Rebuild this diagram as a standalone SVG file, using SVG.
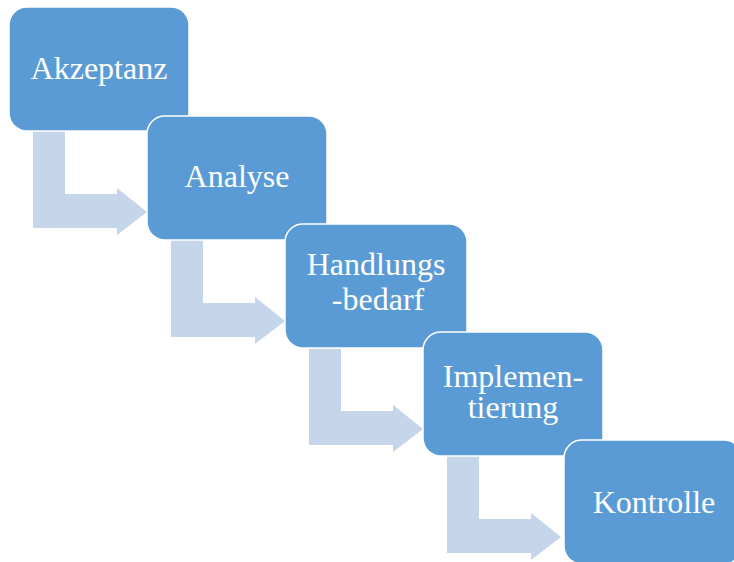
<svg xmlns="http://www.w3.org/2000/svg" width="734" height="562" viewBox="0 0 734 562">
<style>
.box{fill:#5B9BD5;stroke:#FFFFFF;stroke-width:1.5}
.arr{fill:#C5D5EA}
.lbl{font-family:"Liberation Serif","Times New Roman",serif;font-size:32px;fill:#FFFFFF;text-anchor:middle}
</style>
<defs>
<path id="bent" d="M24,120 H56 V187 H108 V181 L138,205 L108,228 V221 H24 Z"/>
</defs>
<rect width="734" height="562" fill="#FFFFFF"/>
<g id="connectors">
<use href="#bent" class="arr" x="9" y="7"/>
<use href="#bent" class="arr" x="147" y="116"/>
<use href="#bent" class="arr" x="285" y="224"/>
<use href="#bent" class="arr" x="423" y="332"/>
</g>
<g id="akzeptanz">
<rect class="box" x="9" y="7" width="180" height="124" rx="18"/>
<text class="lbl" x="99" y="79">Akzeptanz</text>
</g>
<g id="analyse">
<rect class="box" x="147" y="116" width="180" height="124" rx="18"/>
<text class="lbl" x="237" y="187">Analyse</text>
</g>
<g id="handlungsbedarf">
<rect class="box" x="285" y="224" width="182" height="124" rx="18"/>
<text class="lbl" x="376" y="275">Handlungs</text>
<text class="lbl" x="378" y="310">-bedarf</text>
</g>
<g id="implementierung">
<rect class="box" x="423" y="332" width="180" height="124" rx="18"/>
<text class="lbl" x="513" y="387">Implemen-</text>
<text class="lbl" x="513" y="418">tierung</text>
</g>
<g id="kontrolle">
<rect class="box" x="564" y="440" width="178" height="124" rx="18"/>
<text class="lbl" x="654" y="513">Kontrolle</text>
</g>
</svg>
